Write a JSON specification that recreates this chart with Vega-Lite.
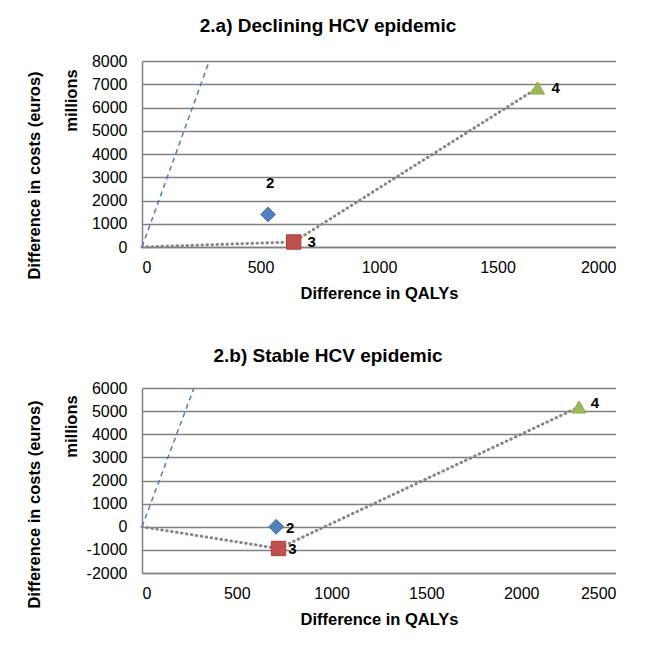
{
  "$schema": "https://vega.github.io/schema/vega-lite/v6.json",
  "background": "white",
  "padding": {"left": 25, "top": 17, "right": 0, "bottom": 0},
  "datasets": {
    "a_points": [
      {"strategy": "2", "qaly": 532, "cost": 1400},
      {"strategy": "3", "qaly": 640, "cost": 215},
      {"strategy": "4", "qaly": 1669, "cost": 6840}
    ],
    "a_frontier": [
      {"order": 1, "qaly": 0, "cost": 0},
      {"order": 2, "qaly": 640, "cost": 215},
      {"order": 3, "qaly": 1669, "cost": 6840}
    ],
    "a_threshold": [
      {"qaly": 0, "cost": 0},
      {"qaly": 284, "cost": 8000}
    ],
    "b_points": [
      {"strategy": "2", "qaly": 708, "cost": 0},
      {"strategy": "3", "qaly": 720, "cost": -940},
      {"strategy": "4", "qaly": 2305, "cost": 5180}
    ],
    "b_frontier": [
      {"order": 1, "qaly": 0, "cost": 0},
      {"order": 2, "qaly": 720, "cost": -940},
      {"order": 3, "qaly": 2305, "cost": 5180}
    ],
    "b_threshold": [
      {"qaly": 0, "cost": 0},
      {"qaly": 274, "cost": 6000}
    ]
  },
  "concat": [
    {
      "width": 474,
      "height": 186,
      "title": {"text": "2.a) Declining HCV epidemic", "dx": 7, "offset": 17},
      "layer": [
        {
          "encoding": {
            "x": {"field": "qaly", "type": "quantitative", "scale": {"domain": [0, 2000], "nice": false}, "axis": {"values": [0, 500, 1000, 1500, 2000], "title": "Difference in QALYs", "grid": false}},
            "y": {"field": "cost", "type": "quantitative", "scale": {"domain": [0, 8000], "nice": false}, "axis": {"orient": "left", "values": [0, 1000, 2000, 3000, 4000, 5000, 6000, 7000, 8000], "title": "millions", "titleX": -71, "titleY": 39}}
          },
          "layer": [
            {"data": {"name": "a_threshold"}, "mark": {"type": "line", "color": "#4a7ebb", "strokeWidth": 1.5, "strokeDash": [5, 4]}},
            {"data": {"name": "a_frontier"}, "mark": {"type": "line", "color": "#858585", "strokeWidth": 3, "strokeDash": [0.5, 4.5], "strokeCap": "round"}, "encoding": {"order": {"field": "order", "type": "quantitative"}}},
            {"data": {"name": "a_points"}, "mark": {"type": "point", "filled": true, "opacity": 1, "strokeWidth": 1},
             "encoding": {
               "shape": {"field": "strategy", "type": "nominal", "scale": {"domain": ["2", "3", "4"], "range": ["diamond", "square", "triangle-up"]}, "legend": null},
               "color": {"field": "strategy", "type": "nominal", "scale": {"domain": ["2", "3", "4"], "range": ["#4f81bd", "#c0504d", "#9bbb59"]}, "legend": null},
               "stroke": {"field": "strategy", "type": "nominal", "scale": {"domain": ["2", "3", "4"], "range": ["#4573ad", "#a9403d", "#8aaa4a"]}, "legend": null},
               "size": {"field": "strategy", "type": "ordinal", "scale": {"domain": ["2", "3", "4"], "range": [220, 196, 260]}, "legend": null}
             }},
            {"data": {"name": "a_points"}, "transform": [{"filter": "datum.strategy == '2'"}], "mark": {"type": "text", "dx": 2, "dy": -31, "fontSize": 15, "fontWeight": "bold", "color": "#000"}, "encoding": {"text": {"field": "strategy", "type": "nominal"}}},
            {"data": {"name": "a_points"}, "transform": [{"filter": "datum.strategy != '2'"}], "mark": {"type": "text", "dx": 18, "dy": 0, "fontSize": 15, "fontWeight": "bold", "color": "#000"}, "encoding": {"text": {"field": "strategy", "type": "nominal"}}}
          ]
        },
        {
          "data": {"name": "a_points"},
          "mark": {"type": "point", "opacity": 0},
          "encoding": {
            "y": {"field": "cost", "type": "quantitative", "scale": {"domain": [0, 8000], "nice": false}, "axis": {"orient": "left", "title": "Difference in costs (euros)", "labels": false, "grid": false, "domain": false, "ticks": false, "titleX": -108, "titleY": 114}}
          }
        }
      ],
      "resolve": {"scale": {"y": "independent"}}
    },
    {
      "width": 474,
      "height": 185,
      "title": {"text": "2.b) Stable HCV epidemic", "dx": 7, "offset": 14},
      "layer": [
        {
          "encoding": {
            "x": {"field": "qaly", "type": "quantitative", "scale": {"domain": [0, 2500], "nice": false}, "axis": {"values": [0, 500, 1000, 1500, 2000, 2500], "title": "Difference in QALYs", "grid": false}},
            "y": {"field": "cost", "type": "quantitative", "scale": {"domain": [-2000, 6000], "nice": false}, "axis": {"orient": "left", "values": [-2000, -1000, 0, 1000, 2000, 3000, 4000, 5000, 6000], "title": "millions", "titleX": -71, "titleY": 38}}
          },
          "layer": [
            {"data": {"name": "b_threshold"}, "mark": {"type": "line", "color": "#4a7ebb", "strokeWidth": 1.5, "strokeDash": [5, 4]}},
            {"data": {"name": "b_frontier"}, "mark": {"type": "line", "color": "#858585", "strokeWidth": 3, "strokeDash": [0.5, 4.5], "strokeCap": "round"}, "encoding": {"order": {"field": "order", "type": "quantitative"}}},
            {"data": {"name": "b_points"}, "mark": {"type": "point", "filled": true, "opacity": 1, "strokeWidth": 1},
             "encoding": {
               "shape": {"field": "strategy", "type": "nominal", "scale": {"domain": ["2", "3", "4"], "range": ["diamond", "square", "triangle-up"]}, "legend": null},
               "color": {"field": "strategy", "type": "nominal", "scale": {"domain": ["2", "3", "4"], "range": ["#4f81bd", "#c0504d", "#9bbb59"]}, "legend": null},
               "stroke": {"field": "strategy", "type": "nominal", "scale": {"domain": ["2", "3", "4"], "range": ["#4573ad", "#a9403d", "#8aaa4a"]}, "legend": null},
               "size": {"field": "strategy", "type": "ordinal", "scale": {"domain": ["2", "3", "4"], "range": [220, 196, 260]}, "legend": null}
             }},
            {"data": {"name": "b_points"}, "transform": [{"filter": "datum.strategy != '4'"}], "mark": {"type": "text", "dx": 14, "dy": 1, "fontSize": 15, "fontWeight": "bold", "color": "#000"}, "encoding": {"text": {"field": "strategy", "type": "nominal"}}},
            {"data": {"name": "b_points"}, "transform": [{"filter": "datum.strategy == '4'"}], "mark": {"type": "text", "dx": 16, "dy": -4, "fontSize": 15, "fontWeight": "bold", "color": "#000"}, "encoding": {"text": {"field": "strategy", "type": "nominal"}}}
          ]
        },
        {
          "data": {"name": "b_points"},
          "mark": {"type": "point", "opacity": 0},
          "encoding": {
            "y": {"field": "cost", "type": "quantitative", "scale": {"domain": [-2000, 6000], "nice": false}, "axis": {"orient": "left", "title": "Difference in costs (euros)", "labels": false, "grid": false, "domain": false, "ticks": false, "titleX": -108, "titleY": 116}}
          }
        }
      ],
      "resolve": {"scale": {"y": "independent"}}
    }
  ],
  "columns": 1,
  "spacing": 45,
  "config": {
    "font": "Liberation Sans",
    "view": {"stroke": null},
    "axis": {
      "labelFont": "Liberation Sans",
      "labelFontSize": 16,
      "labelColor": "#000",
      "labelExpr": "'' + datum.value",
      "titleFont": "Liberation Sans",
      "titleFontSize": 16.5,
      "titleFontWeight": "bold",
      "titleColor": "#000",
      "gridColor": "#808080",
      "gridWidth": 1.5,
      "domainColor": "#808080",
      "domainWidth": 1.5,
      "ticks": false
    },
    "axisY": {"titleAngle": -90, "titleAlign": "center", "titleBaseline": "middle", "labelPadding": 15},
    "axisX": {"labelPadding": 12, "titlePadding": 10},
    "title": {"font": "Liberation Sans", "fontSize": 19, "fontWeight": "bold", "color": "#000", "anchor": "middle", "frame": "bounds"}
  }
}
